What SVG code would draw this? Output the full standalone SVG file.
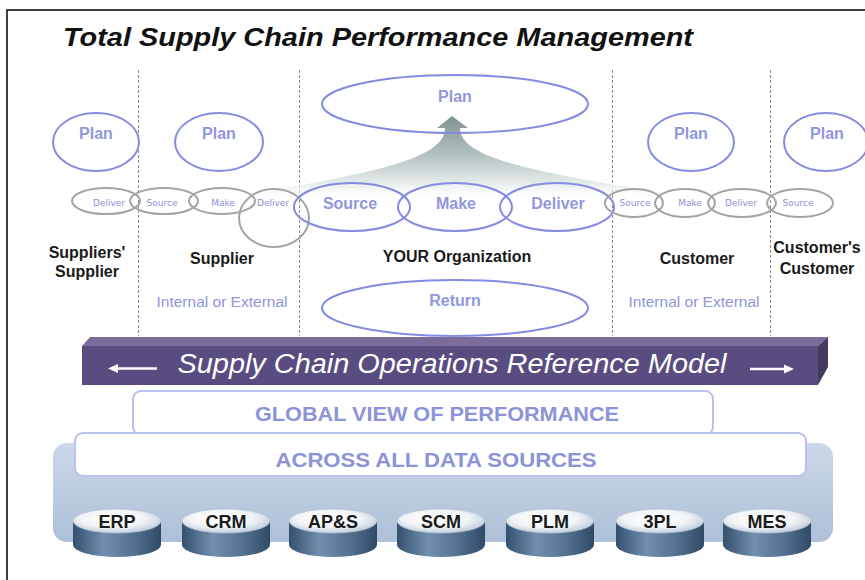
<svg xmlns="http://www.w3.org/2000/svg" xmlns:xlink="http://www.w3.org/1999/xlink" width="865" height="580" viewBox="0 0 865 580">
<style>
.title{font-family:"Liberation Sans",Arial,sans-serif;font-weight:bold;font-style:italic;font-size:26px;fill:#111}
.lab{font-family:"Liberation Sans",Arial,sans-serif;font-weight:bold;font-size:16px;fill:#1a1a1a;text-anchor:middle}
.sub{font-family:"Liberation Sans",Arial,sans-serif;font-size:14px;fill:#8f95d8;text-anchor:middle}
.bl{fill:none;stroke:#848be0;stroke-width:2}
.gr{fill:none;stroke:#a4a4a4;stroke-width:2}
.bt{font-family:"Liberation Sans",Arial,sans-serif;font-weight:bold;font-size:16px;fill:#9197dc;text-anchor:middle}
.st{font-family:"DejaVu Sans",Verdana,sans-serif;font-size:9px;fill:#8b91d8;text-anchor:middle}
.dash{stroke:#8a8a8a;stroke-width:1;stroke-dasharray:3 2}
.cap{font-family:"Liberation Sans",Arial,sans-serif;font-weight:bold;font-size:21px;fill:#8c93d8;text-anchor:middle}
.cyt{font-family:"Liberation Sans",Arial,sans-serif;font-weight:bold;font-size:18px;fill:#1a1a1a;text-anchor:middle}
</style>
<defs>
<linearGradient id="fan" x1="0" y1="117" x2="0" y2="200" gradientUnits="userSpaceOnUse">
<stop offset="0" stop-color="#7f9494"/>
<stop offset="0.45" stop-color="#b3c0c0"/>
<stop offset="0.8" stop-color="#e6ecec"/>
<stop offset="1" stop-color="#ffffff" stop-opacity="0"/>
</linearGradient>
<linearGradient id="panel" x1="0" y1="0" x2="0" y2="1">
<stop offset="0" stop-color="#ccd8e8"/>
<stop offset="1" stop-color="#adc0d8"/>
</linearGradient>
<linearGradient id="side" x1="0" y1="0" x2="1" y2="0">
<stop offset="0" stop-color="#34506e"/>
<stop offset="0.35" stop-color="#7090b0"/>
<stop offset="0.7" stop-color="#52708f"/>
<stop offset="1" stop-color="#304a66"/>
</linearGradient>
<radialGradient id="topf" cx="0.45" cy="0.4" r="0.6">
<stop offset="0" stop-color="#ffffff"/>
<stop offset="0.6" stop-color="#f2f5f8"/>
<stop offset="1" stop-color="#c2cfdc"/>
</radialGradient>
<g id="cyl">
<path d="M-44,0 L-44,24 A44 12 0 0 0 44,24 L44,0 Z" fill="url(#side)"/>
<ellipse cx="0" cy="0" rx="44" ry="12" fill="url(#topf)" stroke="#b8c6d4" stroke-width="0.8"/>
</g>
</defs>
<rect x="0" y="0" width="865" height="580" fill="#fff"/>
<rect x="7" y="10" width="870" height="580" fill="none" stroke="#000" stroke-width="1.5"/>
<text class="title" x="63" y="46" textLength="630" lengthAdjust="spacingAndGlyphs">Total Supply Chain Performance Management</text>

<g id="dividers">
<line class="dash" x1="138.5" y1="70" x2="138.5" y2="336"/>
<line class="dash" x1="299.5" y1="70" x2="299.5" y2="336"/>
<line class="dash" x1="612.5" y1="70" x2="612.5" y2="336"/>
<line class="dash" x1="770.5" y1="70" x2="770.5" y2="336"/>
</g>

<g id="connectors">
<path d="M452,116 L468,128 L460,128 C460,158 530,172 685,196 L240,196 C380,172 445,158 445,128 L437,128 Z" fill="url(#fan)"/>
</g>

<g id="suppliers-supplier">
<ellipse class="bl" cx="96" cy="142" rx="43" ry="29"/>
<text class="bt" x="96" y="139">Plan</text>
<ellipse class="gr" cx="106" cy="201" rx="34" ry="13"/>
<text class="st" x="109" y="206">Deliver</text>
<text class="lab" x="87" y="258">Suppliers'</text>
<text class="lab" x="87" y="277">Supplier</text>
</g>

<g id="supplier">
<ellipse class="bl" cx="219" cy="142" rx="44" ry="29"/>
<text class="bt" x="219" y="139">Plan</text>
<ellipse class="gr" cx="164" cy="201" rx="34" ry="13"/>
<text class="st" x="162" y="206">Source</text>
<ellipse class="gr" cx="222" cy="201" rx="33" ry="13"/>
<text class="st" x="223" y="206">Make</text>
<ellipse class="gr" cx="274" cy="218" rx="35" ry="29"/>
<text class="st" x="273" y="206">Deliver</text>
<text class="lab" x="222" y="264">Supplier</text>
<text class="sub" x="222" y="307" textLength="131" lengthAdjust="spacingAndGlyphs">Internal or External</text>
</g>

<g id="your-organization">
<ellipse class="bl" cx="455" cy="104" rx="133" ry="29"/>
<text class="bt" x="455" y="102">Plan</text>
<ellipse class="bl" cx="352" cy="207" rx="58" ry="24"/>
<text class="bt" x="350" y="209">Source</text>
<ellipse class="bl" cx="455" cy="207" rx="57" ry="24"/>
<text class="bt" x="456" y="209">Make</text>
<ellipse class="bl" cx="557" cy="207" rx="57" ry="24"/>
<text class="bt" x="558" y="209">Deliver</text>
<text class="lab" x="457" y="262">YOUR Organization</text>
<ellipse class="bl" cx="455" cy="308" rx="133" ry="28"/>
<text class="bt" x="455" y="306">Return</text>
</g>

<g id="customer">
<ellipse class="bl" cx="691" cy="142" rx="43" ry="29"/>
<text class="bt" x="691" y="139">Plan</text>
<ellipse class="gr" cx="634" cy="203" rx="29" ry="14"/>
<text class="st" x="635" y="206">Source</text>
<ellipse class="gr" cx="685" cy="203" rx="30" ry="14"/>
<text class="st" x="690" y="206">Make</text>
<ellipse class="gr" cx="742" cy="203" rx="34" ry="14"/>
<text class="st" x="741" y="206">Deliver</text>
<text class="lab" x="697" y="264">Customer</text>
<text class="sub" x="694" y="307" textLength="131" lengthAdjust="spacingAndGlyphs">Internal or External</text>
</g>

<g id="customers-customer">
<ellipse class="bl" cx="826" cy="142" rx="42" ry="29"/>
<text class="bt" x="827" y="139">Plan</text>
<ellipse class="gr" cx="800" cy="203" rx="33" ry="14"/>
<text class="st" x="798" y="206">Source</text>
<text class="lab" x="817" y="253">Customer's</text>
<text class="lab" x="817" y="274">Customer</text>
</g>

<g id="scor-bar">
<polygon points="82,346 90,337 828,337 818,346" fill="#7a6d9c"/>
<rect x="82" y="346" width="736" height="39" fill="#594c80"/>
<polygon points="818,346 828,337 828,367 818,385" fill="#44395f"/>
<text x="452" y="373" text-anchor="middle" font-family="'Liberation Sans',Arial,sans-serif" font-style="italic" font-size="27" fill="#ffffff" textLength="549" lengthAdjust="spacingAndGlyphs">Supply Chain Operations Reference Model</text>
<line x1="157" y1="368.5" x2="116" y2="368.5" stroke="#fff" stroke-width="2.5"/>
<polygon points="108,368.5 118,364 118,373" fill="#fff"/>
<line x1="750" y1="369" x2="786" y2="369" stroke="#fff" stroke-width="2.5"/>
<polygon points="794,369 784,364.5 784,373.5" fill="#fff"/>
</g>

<g id="data-panel">
<rect x="53" y="443" width="780" height="99" rx="14" fill="url(#panel)"/>
</g>

<g id="global-view">
<rect x="133" y="391" width="580" height="44" rx="8" fill="#fff" stroke="#b9c1ee" stroke-width="2"/>
<text class="cap" x="437" y="421" textLength="364" lengthAdjust="spacingAndGlyphs">GLOBAL VIEW OF PERFORMANCE</text>
</g>

<g id="all-data-sources">
<rect x="75" y="433" width="731" height="43" rx="8" fill="#fff" stroke="#b9c1ee" stroke-width="2"/>
<text class="cap" x="436" y="467" textLength="321" lengthAdjust="spacingAndGlyphs">ACROSS ALL DATA SOURCES</text>
</g>

<g id="erp"><use xlink:href="#cyl" x="117" y="521"/><text class="cyt" x="117" y="528">ERP</text></g>
<g id="crm"><use xlink:href="#cyl" x="226" y="521"/><text class="cyt" x="226" y="528">CRM</text></g>
<g id="aps"><use xlink:href="#cyl" x="333" y="521"/><text class="cyt" x="333" y="528">AP&amp;S</text></g>
<g id="scm"><use xlink:href="#cyl" x="441" y="521"/><text class="cyt" x="441" y="528">SCM</text></g>
<g id="plm"><use xlink:href="#cyl" x="550" y="521"/><text class="cyt" x="550" y="528">PLM</text></g>
<g id="tpl"><use xlink:href="#cyl" x="660" y="521"/><text class="cyt" x="660" y="528">3PL</text></g>
<g id="mes"><use xlink:href="#cyl" x="767" y="521"/><text class="cyt" x="767" y="528">MES</text></g>
</svg>
